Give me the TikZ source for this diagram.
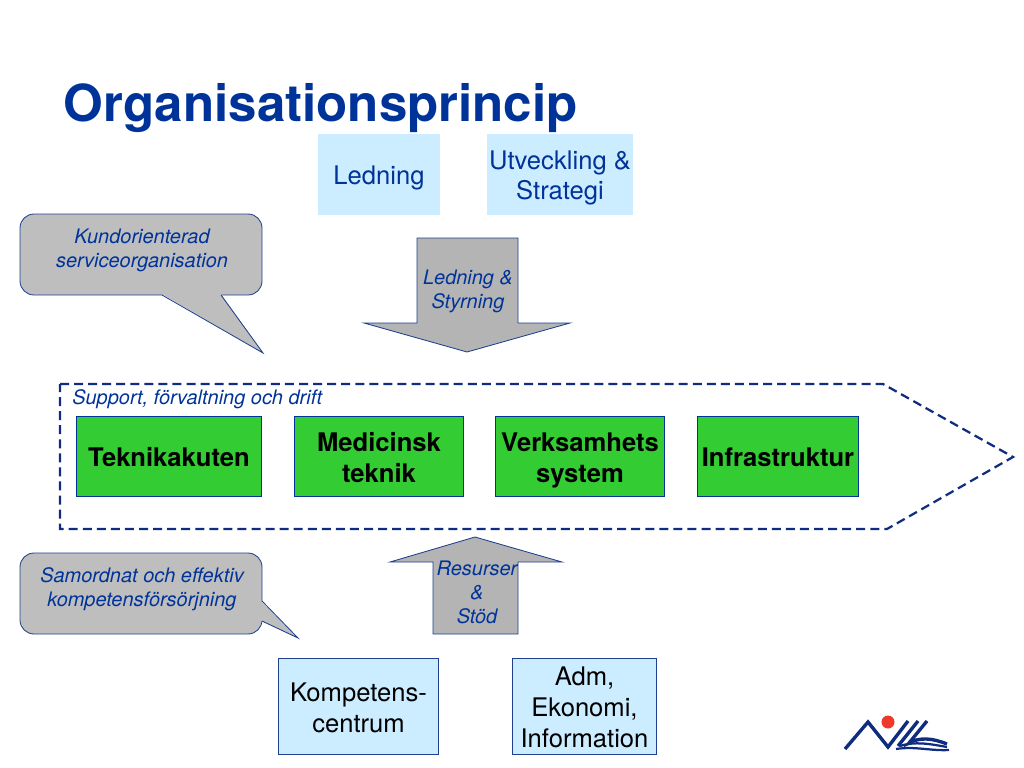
\documentclass[tikz,border=0pt]{standalone}
\usepackage{fontspec}
\setmainfont{TeX Gyre Heros}
\usepackage{xcolor}
\definecolor{deep}{HTML}{003399}
\definecolor{edge}{HTML}{1F3F8F}
\definecolor{navy}{HTML}{0F2C80}
\definecolor{pale}{HTML}{CCECFF}
\definecolor{leaf}{HTML}{33CC33}
\definecolor{slate}{HTML}{B4B4B4}
\definecolor{cloud}{HTML}{BEBEBE}
\definecolor{sun}{HTML}{F0382A}
\newcommand{\lift}{\rule{0pt}{19.3pt}}
\begin{document}
\begin{tikzpicture}[x=0.025cm, y=-0.025cm,
  boxtext/.style={align=center, inner sep=0pt,
                  execute at begin node={\rule{0pt}{18.6pt}},
                  execute at end node={\rule[-5pt]{0pt}{5pt}}},
  unit/.style={boxtext, draw=deep, fill=leaf, minimum height=2cm,
               font=\fontsize{18.2}{22}\selectfont\bfseries},
  dept/.style={boxtext, fill=pale, minimum height=2.025cm, text=deep,
               font=\fontsize{18.2}{21.5}\selectfont},
  staff/.style={boxtext, draw=edge, fill=pale, minimum height=2.4cm,
                font=\fontsize{18.2}{22}\selectfont},
  note/.style={text=deep, font=\fontsize{14.2}{17}\selectfont\itshape, align=center},
  slab/.style={draw=edge, fill=slate, line width=0.6pt, line join=miter},
  bubble/.style={draw=edge, fill=cloud, line width=0.6pt, rounded corners=0.35cm}
]
  \useasboundingbox (0,0) rectangle (1024,768);

  \node[text=deep, font=\fontsize{36.3}{40}\selectfont\bfseries, anchor=base west] (title) at (59,122) {Organisationsprincip};

  % top
  \node[dept, minimum width=3.05cm] (led) at (379,174.5) {Ledning};
  \node[dept, minimum width=3.65cm] (utv) at (560,174.5) {\lift Utveckling \&\\Strategi};

  % speech bubbles
  \draw[bubble] (162,295) -- (20,295) -- (20,214) -- (262,214) -- (262,295) -- (221,295);
  \fill[cloud] (162,294) -- (263,353) -- (221,294) -- cycle;
  \draw[draw=edge, line width=0.6pt] (162,295) -- (263,353) -- (221,295);
  \node[note] (kund) at (142,250) {Kundorienterad\\serviceorganisation};

  \draw[bubble] (262,621) -- (262,634) -- (20,634) -- (20,553) -- (262,553) -- (262,601);
  \fill[cloud] (261,601) -- (298,638) -- (261,621) -- cycle;
  \draw[draw=edge, line width=0.6pt] (262,601) -- (298,638) -- (262,621);
  \node[note] (sam) at (142,589) {Samordnat och effektiv\\kompetensförsörjning};

  % arrows
  \draw[slab] (417,238) -- (518,238) -- (518,323) -- (570,323) -- (467,352) -- (364,323) -- (417,323) -- cycle;
  \node[note] (styr) at (468,291) {Ledning \&\\Styrning};
  \draw[slab] (475,537) -- (562,562) -- (518,562) -- (518,634) -- (433,634) -- (433,562) -- (390,562) -- cycle;
  \node[note] (res) at (477,592) {Resurser\\\&\hspace{1.1em}\\Stöd};

  % process frame
  \draw[draw=navy, line width=1.6pt, dash pattern=on 6.4pt off 3.6pt] (60,384) -- (883,384) -- (1013,457) -- (887,529) -- (60,529) -- cycle;
  \node[note, anchor=west, inner sep=0pt] (sup) at (72,399.5) {Support, förvaltning och drift};

  \node[unit, minimum width=4.62cm] (tek) at (169,456.5) {Teknikakuten};
  \node[unit, minimum width=4.22cm] (med) at (379,456.5) {\lift Medicinsk\\teknik};
  \node[unit, minimum width=4.22cm] (ver) at (580,456.5) {\lift Verksamhets\\system};
  \node[unit, minimum width=4.02cm] (inf) at (778,456.5) {Infrastruktur};

  % bottom
  \node[staff, minimum width=4cm] (kom) at (358.5,706.5) {\lift Kompetens-\\centrum};
  \node[staff, minimum width=3.6cm] (adm) at (584.5,706.5) {\lift Adm,\\Ekonomi,\\Information};

  % logo
  \fill[sun] (888,722) circle (6.5);
  \draw[navy, line width=2.4pt, line join=miter] (845,749) -- (868,722) -- (888,747) -- (908,721);
  \draw[navy, line width=2.4pt] (918,721) -- (898,746);
  \draw[navy, line width=2.4pt] (927,721) -- (909,743) .. controls (920,737) and (932,738) .. (947,744);
  \draw[navy, line width=1.6pt] (900,746) .. controls (915,741) and (930,744) .. (947,747);
  \draw[navy, line width=1.6pt] (896,749) .. controls (915,746) and (930,751) .. (949,750);
\end{tikzpicture}
\end{document}
